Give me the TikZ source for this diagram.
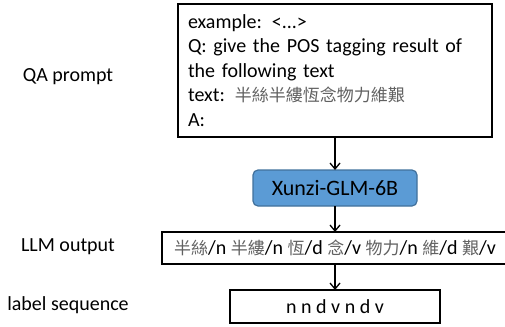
\documentclass[tikz,border=0pt]{standalone}
\usepackage{fontspec}
\setmainfont{Carlito}
\newfontfamily\cjk{Noto Sans CJK TC}
\usepackage{xcolor}
\usetikzlibrary{arrows.meta, positioning}
\definecolor{modelblue}{HTML}{5B9BD5}
\definecolor{modeldraw}{HTML}{41719C}
\newcommand{\zh}[1]{{\cjk\fontsize{17}{24.5}\selectfont\color{black!62}#1}}

\begin{document}
\begin{tikzpicture}[
  x=1pt, y=1pt,
  font=\fontsize{20}{24.5}\selectfont,
  >={Straight Barb[length=6pt,width=10pt]},
  box/.style={
    rectangle, draw=black, line width=2.2pt, inner sep=0pt, outer sep=0pt,
    text centered
  },
  promptbox/.style={box, align=left, text width=294pt, inner xsep=10pt,
    minimum height=133pt},
  model/.style={
    rectangle, rounded corners=5pt, fill=modelblue, draw=modeldraw,
    line width=1.2pt, outer sep=0pt, minimum width=164pt, minimum height=36pt,
    font=\fontsize{22}{24}\selectfont
  },
  outbox/.style={box, minimum width=346pt, minimum height=32pt},
  seqbox/.style={box, minimum width=210pt, minimum height=33pt},
  lbl/.style={font=\fontsize{20}{24}\selectfont},
  arr/.style={->, line width=1.3pt},
]
\useasboundingbox (0,0) rectangle (505,-326);
%% Stages
\node[promptbox] (QA) at (335,-70.5)
  {example: <...>\\
   Q: give the POS tagging result of\\
   the following text\\
   text: \zh{半絲半縷恆念物力維艱}\\
   A:};
\node[model, below=33pt of QA]     (GLM) {Xunzi-GLM-6B};
\node[outbox, below=26pt of GLM]   (OUT)
  {\zh{半絲}/n \zh{半縷}/n \zh{恆}/d \zh{念}/v \zh{物力}/n \zh{維}/d \zh{艱}/v};
\node[seqbox, below=26pt of OUT]   (SEQ) {n n d v n d v};
%% Arrows
\draw[arr] (QA)--(GLM); \draw[arr] (GLM)--(OUT); \draw[arr] (OUT)--(SEQ);
%% Row labels
\node[lbl] (QAL)  at (68,-77)  {QA prompt};
\node[lbl] (OUTL) at (68,-247) {LLM output};
\node[lbl] (SEQL) at (68,-305) {label sequence};
\end{tikzpicture}
\end{document}
